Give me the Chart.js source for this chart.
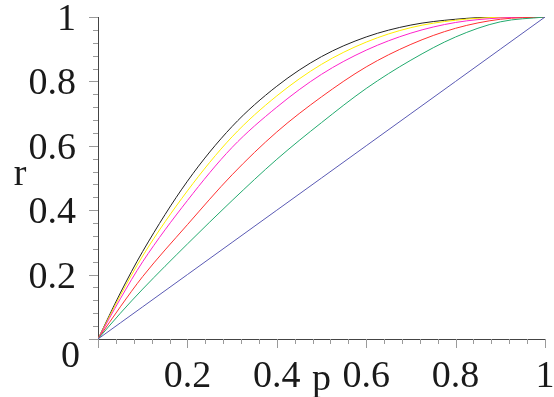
<!DOCTYPE html>
<html><head><meta charset="utf-8">
<script src="https://cdn.jsdelivr.net/npm/chart.js@4/dist/chart.umd.min.js"></script>
<style>html,body{margin:0;padding:0;background:#fff}#wrap{width:554px;height:397px}</style>
</head><body><div id="wrap"><canvas id="c" width="554" height="397"></canvas></div>
<script>
const p        = [0, 0.05, 0.1, 0.2, 0.3, 0.4, 0.5, 0.6, 0.7, 0.8, 0.9, 1];
const rBlack   = [0, 0.143, 0.272, 0.49, 0.66, 0.785, 0.877, 0.938, 0.975, 0.993, 1.0, 1];
const rYellow  = [0, 0.135, 0.258, 0.46, 0.628, 0.755, 0.853, 0.922, 0.967, 0.99, 0.999, 1];
const rMagenta = [0, 0.125, 0.24, 0.43, 0.595, 0.72, 0.822, 0.897, 0.95, 0.983, 0.997, 1];
const rRed     = [0, 0.1, 0.194, 0.355, 0.51, 0.643, 0.752, 0.845, 0.915, 0.965, 0.993, 1];
const rGreen   = [0, 0.08, 0.155, 0.295, 0.43, 0.558, 0.672, 0.778, 0.866, 0.938, 0.985, 1];
const rBlue    = [0, 0.05, 0.1, 0.2, 0.3, 0.4, 0.5, 0.6, 0.7, 0.8, 0.9, 1];
const xTickLabels = ['0.2', '0.4', '0.6', '0.8', '1'];
const yTickLabels = ['0.2', '0.4', '0.6', '0.8', '1'];
const xTitle = 'p';
const yTitle = 'r';

const FONT = "'Liberation Serif', serif";
function pts(ys){ return p.map((x,i)=>({x:x, y:ys[i]})); }
function ds(ys, color){
  return {data: pts(ys), borderColor: color, borderWidth: 1, pointRadius: 0, fill: false, cubicInterpolationMode: 'monotone'};
}

const extras = {
  id: 'extras',
  afterDraw(chart){
    const ctx = chart.ctx, xs = chart.scales.x, ys = chart.scales.y;
    ctx.save();
    ctx.strokeStyle = '#9a9a9a';
    ctx.lineWidth = 1;
    for (let k = 0; k <= 25; k++){
      const v = k * 0.04;
      const major = (k % 5 === 0);
      const len = major ? 9 : 5;
      const px = Math.round(xs.getPixelForValue(v)) + 0.5;
      ctx.beginPath(); ctx.moveTo(px, ys.bottom); ctx.lineTo(px, ys.bottom + len); ctx.stroke();
      const py = Math.round(ys.getPixelForValue(v)) + 0.5;
      ctx.beginPath(); ctx.moveTo(xs.left, py); ctx.lineTo(xs.left - len, py); ctx.stroke();
    }
    ctx.fillStyle = '#1a1a1a';
    ctx.font = '38px ' + FONT;
    ctx.textBaseline = 'alphabetic';
    ctx.textAlign = 'right';
    ctx.fillText('0', xs.left - 18, ys.bottom + 28);
    ctx.textAlign = 'center';
    ctx.fillText(xTitle, xs.getPixelForValue(0.5), ys.bottom + 51);
    ctx.fillText(yTitle, 20, ys.getPixelForValue(0.5) + 7);
    ctx.restore();
  }
};

function zeroPad(s){ s.paddingTop = 0; s.paddingBottom = 0; s.paddingLeft = 0; s.paddingRight = 0; }

function draw(){
  new Chart(document.getElementById('c'), {
    type: 'line',
    data: { datasets: [
      ds(rBlue, '#5a5ab4'),
      ds(rGreen, '#22aa6e'),
      ds(rRed, '#ff3030'),
      ds(rMagenta, '#ff22cc'),
      ds(rYellow, '#ffee00'),
      ds(rBlack, '#222222')
    ]},
    options: {
      responsive: false,
      devicePixelRatio: 1,
      animation: false,
      layout: { padding: { top: 17, right: 9, left: 0, bottom: 0 } },
      plugins: { legend: { display: false }, tooltip: { enabled: false } },
      scales: {
        x: {
          type: 'linear', min: 0, max: 1,
          grid: { display: false, drawTicks: false },
          border: { display: true, color: '#444', width: 1 },
          ticks: {
            stepSize: 0.2, padding: 15, color: '#1a1a1a',
            font: { family: FONT, size: 38 },
            maxRotation: 0, autoSkip: false,
            callback: (v) => { const i = Math.round(v / 0.2) - 1; return i >= 0 ? xTickLabels[i] : ''; }
          },
          afterFit: (s) => { s.height = 58; zeroPad(s); }
        },
        y: {
          type: 'linear', min: 0, max: 1,
          grid: { display: false, drawTicks: false },
          border: { display: true, color: '#444', width: 1 },
          ticks: {
            stepSize: 0.2, padding: 22, color: '#1a1a1a', labelOffset: 3,
            font: { family: FONT, size: 38 },
            autoSkip: false,
            callback: (v) => { const i = Math.round(v / 0.2) - 1; return i >= 0 ? yTickLabels[i] : ''; }
          },
          afterFit: (s) => { s.width = 98; zeroPad(s); }
        }
      }
    },
    plugins: [extras]
  });
}
if (document.fonts && document.fonts.load) {
  document.fonts.load("38px 'Liberation Serif'").then(draw, draw);
} else { draw(); }
</script>
</body></html>
